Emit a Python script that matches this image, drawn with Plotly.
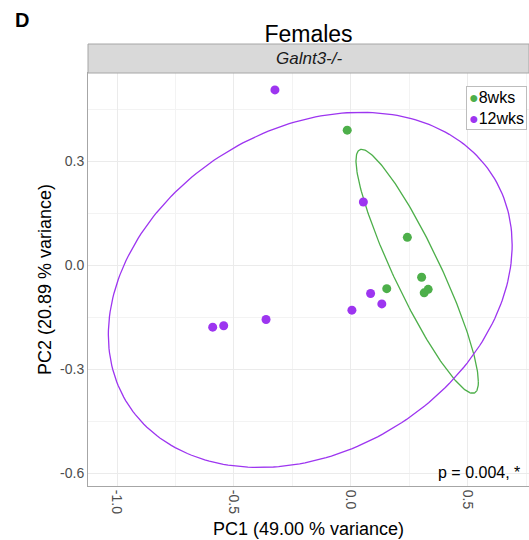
import numpy as np
import plotly.graph_objects as go

# ---- data ----
pc1_8wks = [-0.016, 0.241, 0.302, 0.153, 0.313, 0.330]
pc2_8wks = [0.389, 0.080, -0.035, -0.068, -0.080, -0.070]

pc1_12wks = [-0.325, 0.053, 0.084, 0.132, 0.004, -0.363, -0.591, -0.544]
pc2_12wks = [0.505, 0.182, -0.082, -0.112, -0.130, -0.157, -0.179, -0.175]

# ellipse parameters (centre, half-extent in x / y, correlation)
ell_8wks = dict(cx=0.283, cy=-0.018, hx=0.2615, hy=0.3516, r=-0.907)
ell_12wks = dict(cx=-0.174, cy=-0.0715, hx=0.863, hy=0.512, r=0.253)

x_ticks = [-1.0, -0.5, 0.0, 0.5]
x_ticklabels = ["-1.0", "-0.5", "0.0", "0.5"]
y_ticks = [-0.6, -0.3, 0.0, 0.3]
y_ticklabels = ["-0.6", "-0.3", "0.0", "0.3"]

GREEN = "#4DAF4A"
PURPLE = "#9D35F0"
FONT = "Liberation Sans"


def ellipse(p, n=241):
    t = np.linspace(0, 2 * np.pi, n)
    s = np.sqrt(1 - p["r"] ** 2)
    x = p["cx"] + p["hx"] * np.cos(t)
    y = p["cy"] + p["hy"] * (p["r"] * np.cos(t) + s * np.sin(t))
    return x, y


fig = go.Figure()
for p, col in [(ell_8wks, GREEN), (ell_12wks, PURPLE)]:
    ex, ey = ellipse(p)
    fig.add_trace(go.Scatter(x=ex, y=ey, mode="lines", line=dict(color=col, width=1.3),
                             hoverinfo="skip", showlegend=False))

fig.add_trace(go.Scatter(x=pc1_8wks, y=pc2_8wks, mode="markers", name="8wks",
                         marker=dict(color=GREEN, size=9), showlegend=False))
fig.add_trace(go.Scatter(x=pc1_12wks, y=pc2_12wks, mode="markers", name="12wks",
                         marker=dict(color=PURPLE, size=9), showlegend=False))

L, R, T, B = 88, 0, 73, 54
W, H = 529, 540
ph = H - T - B
pw = W - L - R


def py(px_y):
    """reference pixel row -> paper y"""
    return (H - B - px_y) / ph


def px(px_x):
    """reference pixel column -> paper x"""
    return (px_x - L) / pw


fig.update_layout(
    width=W, height=H,
    margin=dict(l=L, r=R, t=T, b=B),
    paper_bgcolor="white", plot_bgcolor="white",
    font=dict(family=FONT, color="#1a1a1a"),
    title=dict(text="Females", x=(L + pw / 2) / W, xanchor="center",
               y=1 - 34 / H, yanchor="middle", font=dict(size=23, color="black")),
    xaxis=dict(range=[-1.124, 0.761], tickvals=x_ticks, ticktext=x_ticklabels,
               tickangle=90, tickfont=dict(size=14, color="#4d4d4d"),
               showgrid=True, gridcolor="#ebebeb", gridwidth=1,
               minor=dict(dtick=0.25, showgrid=True, gridcolor="#f3f3f3", gridwidth=0.6),
               zeroline=False, showline=True, linecolor="#a6a6a6", linewidth=1, mirror=True,
               title=dict(text="PC1 (49.00 % variance)", font=dict(size=18, color="black"),
                          standoff=9)),
    yaxis=dict(range=[-0.637, 0.5538], tickvals=y_ticks, ticktext=y_ticklabels,
               tickfont=dict(size=14, color="#4d4d4d"),
               showgrid=True, gridcolor="#ebebeb", gridwidth=1,
               minor=dict(dtick=0.15, showgrid=True, gridcolor="#f3f3f3", gridwidth=0.6),
               zeroline=False, showline=True, linecolor="#a6a6a6", linewidth=1, mirror=True,
               title=dict(text="PC2 (20.89 % variance)", font=dict(size=18, color="black"),
                          standoff=3)),
    shapes=[dict(type="rect", xref="paper", yref="paper", x0=0, x1=1, y0=1,
                 y1=py(44), fillcolor="#d9d9d9", line=dict(color="#a6a6a6", width=1),
                 layer="above")],
    annotations=[
        dict(text="<i>Galnt3-/-</i>", xref="paper", yref="paper", x=0.5, y=py(58.5),
             xanchor="center", yanchor="middle", showarrow=False,
             font=dict(size=17, color="#1a1a1a")),
        dict(text="<b>D</b>", xref="paper", yref="paper", x=px(13), y=py(20),
             xanchor="left", yanchor="middle", showarrow=False,
             font=dict(size=20, color="black")),
        dict(text="p = 0.004, *", xref="paper", yref="paper", x=px(522),
             y=py(472), xanchor="right", yanchor="middle", showarrow=False,
             font=dict(size=16, color="black")),
        dict(text=f"<span style='color:{GREEN}'>●</span>8wks<br>"
                  f"<span style='color:{PURPLE}'>●</span>12wks",
             xref="paper", yref="paper", x=px(466), y=py(86),
             xanchor="left", yanchor="top", align="left", showarrow=False,
             bordercolor="#bdbdbd", borderwidth=1, borderpad=2, bgcolor="white",
             font=dict(size=16, color="black")),
    ],
)

fig.write_html("out.html", config={"displayModeBar": False},
               post_script="document.body.style.margin='0';document.body.style.overflow='hidden';")
